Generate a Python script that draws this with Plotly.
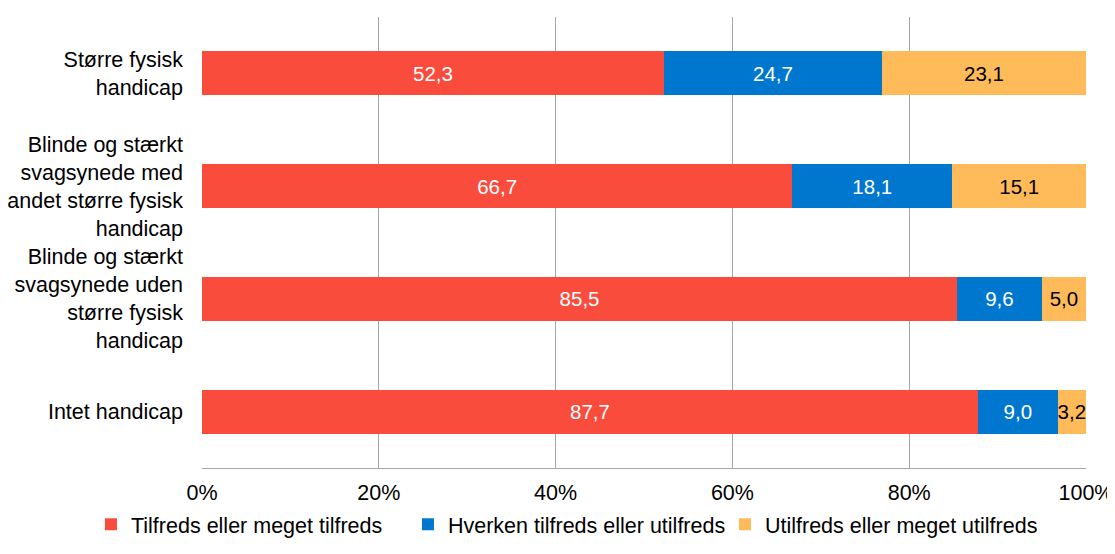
import plotly.graph_objects as go

categories = ["Større fysisk<br>handicap",
              "Blinde og stærkt<br>svagsynede med<br>andet større fysisk<br>handicap",
              "Blinde og stærkt<br>svagsynede uden<br>større fysisk<br>handicap",
              "Intet handicap"]
series_names = ["Tilfreds eller meget tilfreds",
                "Hverken tilfreds eller utilfreds",
                "Utilfreds eller meget utilfreds"]
tilfreds = [52.3, 66.7, 85.5, 87.7]
hverken = [24.7, 18.1, 9.6, 9.0]
utilfreds = [23.1, 15.1, 5.0, 3.2]
tick_vals = [0, 20, 40, 60, 80, 100]
tick_text = ["0%", "20%", "40%", "60%", "80%", "100%"]

colors = ["#F94C3D", "#0077CF", "#FFBB5A"]
text_colors = ["white", "white", "black"]
FONT = "Liberation Sans, Arial, sans-serif"

fig = go.Figure()
for name, vals, c, tc in zip(series_names, [tilfreds, hverken, utilfreds], colors, text_colors):
    fig.add_trace(go.Bar(
        y=categories, x=vals, name=name, orientation="h",
        marker=dict(color=c, line=dict(width=0)),
        text=[f"{v:.1f}".replace(".", ",") for v in vals],
        textposition="inside", insidetextanchor="middle", textangle=0,
        textfont=dict(color=tc, size=20.5, family=FONT),
        constraintext="none", hoverinfo="skip",
    ))

# page body has an 8px margin, so the figure is sized to fit the window
fig.update_layout(
    barmode="stack", barnorm="percent", bargap=0.61,
    width=1107, height=546,
    margin=dict(l=194, r=29, t=9, b=79),
    plot_bgcolor="white", paper_bgcolor="white",
    font=dict(family=FONT, size=21.5, color="black"),
    xaxis=dict(range=[0, 100], tickvals=tick_vals, ticktext=tick_text,
               showgrid=True, gridcolor="#A6A6A6", gridwidth=1,
               showline=True, linecolor="#A6A6A6", linewidth=1,
               zeroline=False, ticks="", ticklen=0, automargin=False,
               ticklabelstandoff=5, tickfont=dict(size=21.5)),
    yaxis=dict(autorange="reversed", showgrid=False, zeroline=False,
               ticks="", ticklen=0, automargin=False, ticklabelstandoff=18,
               tickfont=dict(size=21.5)),
    legend=dict(orientation="h", xref="paper", x=-0.1256, xanchor="left",
                yref="paper", y=-0.170, yanchor="bottom",
                entrywidth=272, entrywidthmode="pixels",
                font=dict(size=21.5), traceorder="normal"),
)
fig.write_html("out.html")
